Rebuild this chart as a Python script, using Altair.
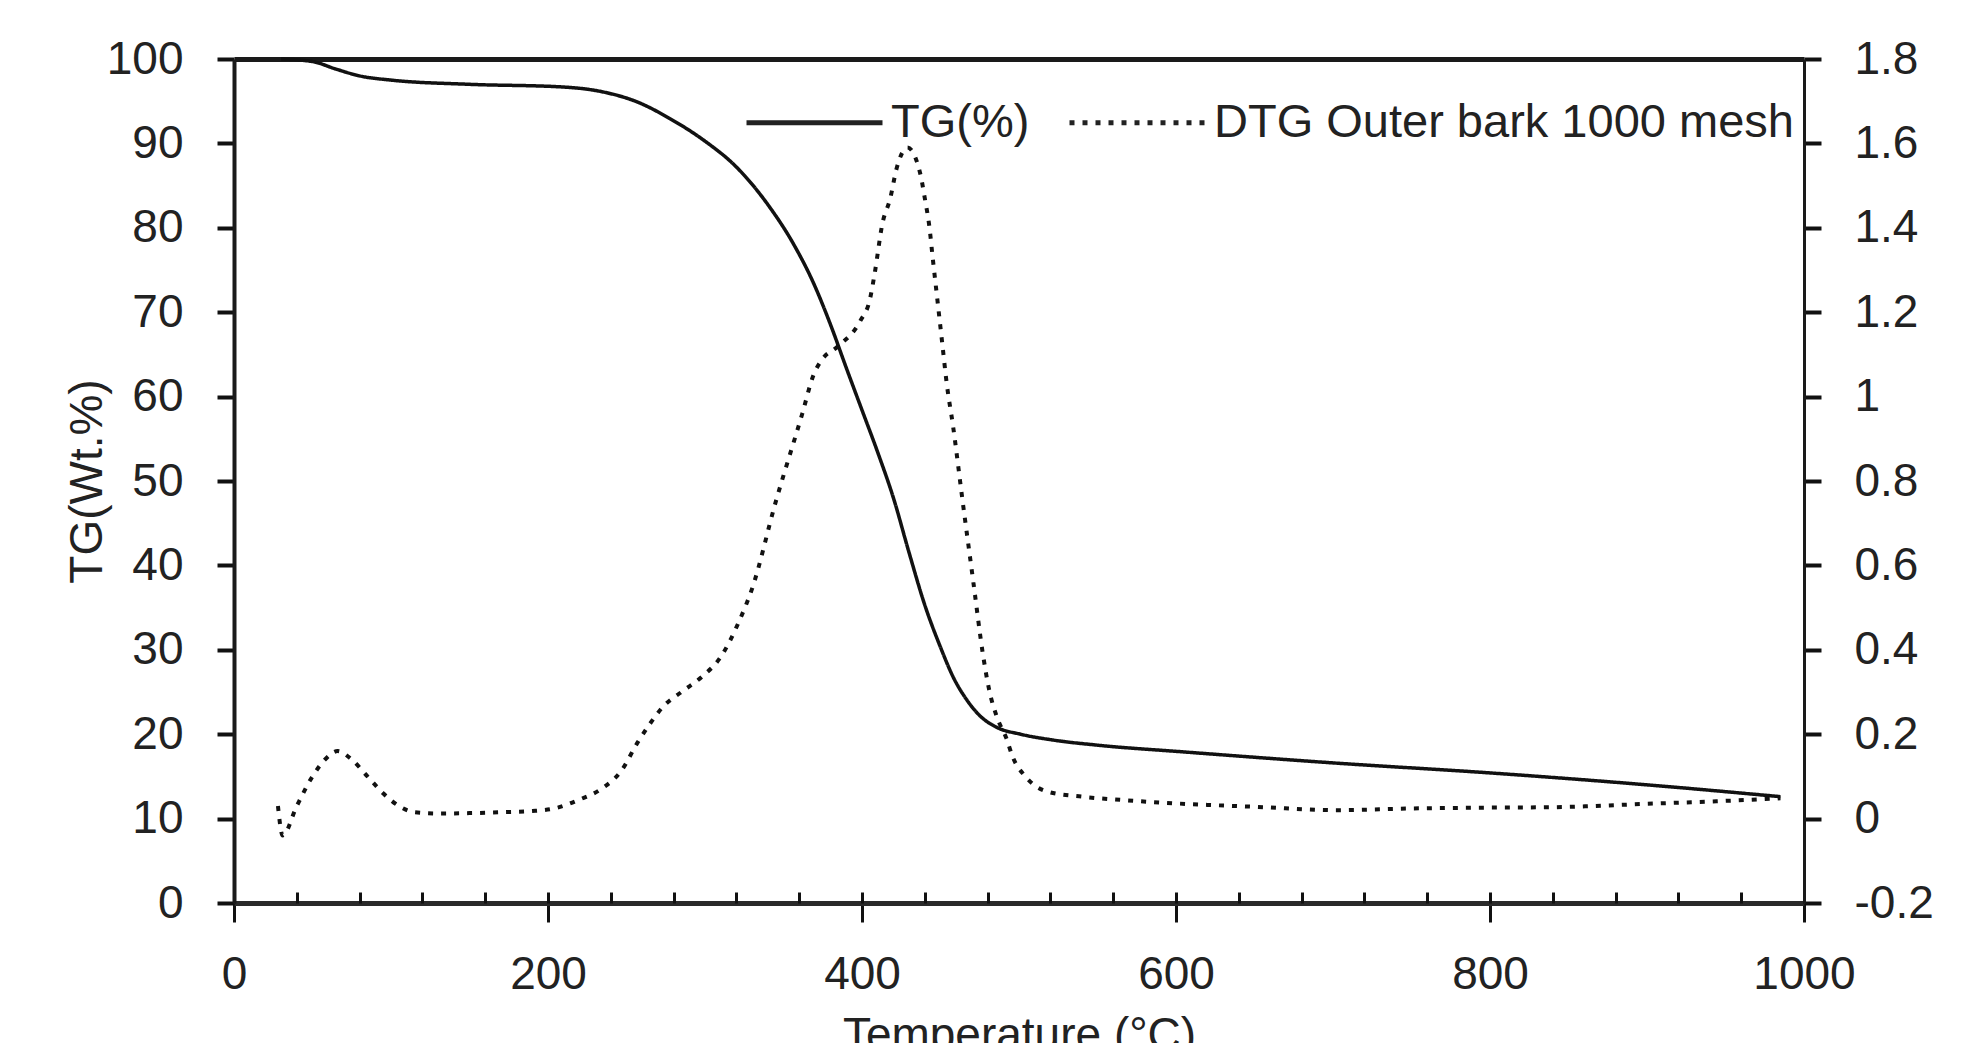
import altair as alt
import pandas as pd

# ---- data ----
tg_temp = [30, 50, 65, 80, 100, 150, 208, 235, 257, 278, 299, 320, 341, 356, 369, 380, 390,
           400, 410, 420, 430, 440, 450, 458, 467, 475, 486, 501, 522, 550, 605, 700, 801,
           900, 985]
tg_val = [100, 99.7, 98.8, 98.0, 97.5, 97.0, 96.7, 96.1, 94.9, 92.9, 90.4, 87.2, 82.5, 78.2,
          73.5, 68.5, 63.4, 58.4, 53.4, 48.0, 41.5, 35.3, 30.3, 26.8, 24.0, 22.2, 20.8, 20.0,
          19.3, 18.7, 17.9, 16.6, 15.4, 14.0, 12.6]

dtg_temp = [28, 31, 40, 50, 58, 66, 75, 85, 95, 105, 115, 130, 150, 170, 190, 205, 220, 233,
            247, 257, 265, 273, 285, 298, 310, 322, 330, 345, 362, 369, 375, 384, 399, 405,
            408, 413, 418, 422, 429, 437, 440, 443, 445, 448, 451, 454, 458, 464, 471, 477,
            481, 486, 492, 496, 504, 519, 540, 566, 600, 650, 703, 750, 800, 840, 900, 950, 985]
dtg_val = [0.03, -0.04, 0.03, 0.10, 0.14, 0.16, 0.14, 0.10, 0.06, 0.03, 0.015, 0.012, 0.013,
           0.015, 0.018, 0.025, 0.045, 0.068, 0.115, 0.18, 0.225, 0.264, 0.30, 0.336, 0.383,
           0.47, 0.545, 0.75, 0.96, 1.05, 1.09, 1.117, 1.18, 1.23, 1.29, 1.41, 1.47, 1.54,
           1.59, 1.53, 1.47, 1.40, 1.33, 1.23, 1.13, 1.03, 0.93, 0.755, 0.558, 0.39, 0.305,
           0.24, 0.19, 0.146, 0.10, 0.063, 0.052, 0.044, 0.036, 0.028, 0.02, 0.024, 0.026,
           0.027, 0.035, 0.042, 0.048]

x_major = [0, 200, 400, 600, 800, 1000]
x_minor = list(range(0, 1001, 40))
y_left_ticks = list(range(0, 101, 10))
y_right_ticks = [-0.2, 0, 0.2, 0.4, 0.6, 0.8, 1.0, 1.2, 1.4, 1.6, 1.8]

TG_NAME = "TG(%)"
DTG_NAME = "DTG Outer bark 1000 mesh"

tg_df = pd.DataFrame({"T": tg_temp, "v": tg_val, "series": TG_NAME})
dtg_df = pd.DataFrame({"T": dtg_temp, "v": dtg_val, "series": DTG_NAME})

FONT = "Liberation Sans"
FS = 46
TXT = "#222222"
LINE = "#111111"

x_scale = alt.Scale(domain=[0, 1000], nice=False, zero=False)
dash_scale = alt.Scale(domain=[TG_NAME, DTG_NAME], range=[[1, 0], [5, 8]])

legend = alt.Legend(
    orient="none", legendX=510, legendY=-7, direction="horizontal", title=None,
    labelFont=FONT, labelFontSize=47, labelColor=TXT, labelLimit=2000,
    symbolType="stroke", symbolSize=136 * 136, symbolStrokeWidth=5,
    symbolStrokeColor="#222222", labelOffset=6, columnPadding=29, padding=0,
)

tg = alt.Chart(tg_df).mark_line(color=LINE, strokeWidth=3.5, interpolate="monotone").encode(
    x=alt.X("T:Q", scale=x_scale, axis=alt.Axis(
        values=x_major, orient="bottom", title="Temperature (°C)", grid=False, format="d",
        labelFlush=False,
        tickSize=19, tickWidth=3, tickColor=LINE, domainWidth=5, domainColor="#2a2a2a",
        labelFont=FONT, labelFontSize=FS, labelColor=TXT, labelPadding=30,
        titleFont=FONT, titleFontSize=FS, titleColor=TXT, titleFontWeight="normal",
        titlePadding=16)),
    y=alt.Y("v:Q", scale=alt.Scale(domain=[0, 100], nice=False), axis=alt.Axis(
        values=y_left_ticks, orient="left", title="TG(Wt.%)", grid=False,
        tickSize=17, tickWidth=4, tickColor=LINE, domainWidth=4, domainColor="#1a1a1a",
        labelFont=FONT, labelFontSize=FS, labelColor=TXT, labelPadding=34,
        titleFont=FONT, titleFontSize=FS, titleColor=TXT, titleFontWeight="normal",
        titlePadding=-5)),
    strokeDash=alt.StrokeDash("series:N", scale=dash_scale, legend=legend),
)

dtg = alt.Chart(dtg_df).mark_line(color=LINE, strokeWidth=4, interpolate="monotone").encode(
    x=alt.X("T:Q", scale=x_scale, axis=alt.Axis(
        values=x_minor, orient="bottom", offset=-11, tickSize=11, tickWidth=3,
        tickColor=LINE, domain=False, labels=False, title=None, grid=False)),
    y=alt.Y("v:Q", scale=alt.Scale(domain=[-0.2, 1.8], nice=False, zero=False), axis=alt.Axis(
        values=y_right_ticks, orient="right", title=None, grid=False,
        tickSize=17, tickWidth=4, tickColor=LINE, domainWidth=3, domainColor="#1a1a1a",
        labelFont=FONT, labelFontSize=FS, labelColor=TXT, labelPadding=33,
        labelExpr="'' + round(datum.value * 10) / 10")),
    strokeDash=alt.StrokeDash("series:N", scale=dash_scale, legend=legend),
)

# invisible layer that only carries the thick top border (a domain-only top axis)
top = alt.Chart(tg_df).mark_line(opacity=0).encode(
    x=alt.X("T:Q", scale=x_scale, axis=alt.Axis(
        orient="top", domain=True, domainWidth=5, domainColor="#1a1a1a",
        ticks=False, labels=False, title=None, grid=False)),
    y=alt.Y("v:Q", scale=alt.Scale(domain=[0, 100], nice=False), axis=None),
)

chart = alt.layer(tg, dtg, top).resolve_scale(
    y="independent", x="shared", strokeDash="shared"
).resolve_axis(
    x="independent", y="independent"
).properties(
    width=1570, height=844,
    padding={"left": 226, "top": 51, "right": 150, "bottom": 140},
    autosize=alt.AutoSizeParams(type="none"),
    background="white",
).configure_view(
    stroke=None
)

chart.save("out.html", embed_options={"renderer": "svg", "actions": False})
